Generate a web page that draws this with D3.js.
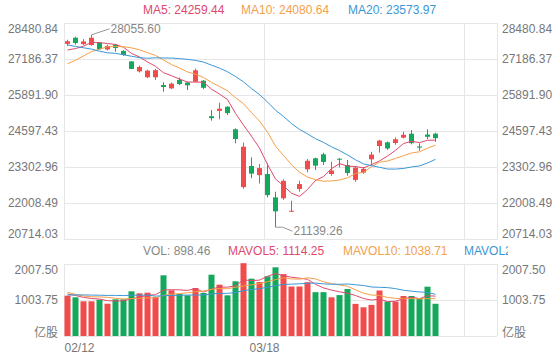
<!DOCTYPE html>
<html><head><meta charset="utf-8">
<script src="https://cdn.jsdelivr.net/npm/d3@7"></script>
<style>
body{margin:0;background:#fff}
svg{display:block}
text{font-family:"Liberation Sans",Arial,"Noto Sans CJK SC",sans-serif;font-size:12px}
</style>
</head><body>
<svg id="c" width="560" height="360"></svg>
<script>
// ---------- data ----------
const dates = ["02/12","02/13","02/14","02/17","02/18","02/19","02/20","02/21","02/24","02/25","02/26","02/27","02/28",
  "03/02","03/03","03/04","03/05","03/06","03/09","03/10","03/11","03/12","03/13","03/16","03/17","03/18","03/19","03/20",
  "03/23","03/24","03/25","03/26","03/27","03/30","03/31","04/01","04/02","04/03","04/06","04/07","04/08","04/09",
  "04/14","04/15","04/16","04/17","04/20"];
const opens  = [27730,27950,27720,27690,27770,27530,27700,27480,27100,26740,26530,26529,26250,26132,26432,26340,26371,26407,
  25130,25320,25470,24660,22580,23340,23010,23050,22210,22177,21720,22512,23220,23616,23760,23051,23600,23375,22840,23100,
  23580,24058,24191,24166,24357,24500,24040,24470,24500];
const closes = [27824,27760,27816,27950,27540,27656,27580,27330,26830,26900,26770,26785,26180,26300,26285,26240,26780,26150,
  25060,25400,25240,24310,24033,23064,23264,22292,21709,22805,21730,22690,23527,23352,23484,23175,23580,23086,23280,23236,
  23749,24253,23970,24300,24460,24160,24000,24390,24340];
const highs  = [27880,27990,27900,28055.60,27790,27700,27730,27500,27110,26950,26800,26830,26350,26340,26520,26370,26840,26430,
  25350,25615,25490,24694,24180,23650,23410,23436,22415,22860,22091,22810,23590,23640,23817,23494,23620,23555,23340,23300,
  23850,24280,24220,24370,24570,24630,24155,24660,24536];
const lows   = [27650,27700,27690,27660,27520,27490,27450,27300,26820,26700,26500,26430,26010,26100,26250,26070,26360,26100,
  24970,25020,25170,24155,22520,22900,22710,22210,21139.26,22120,21700,22415,23112,23195,23375,22990,23290,22990,22770,23060,
  23375,23820,23914,24100,24330,24118,23890,24300,24210];
const volumes = [1124,1078,967,967,1012,901,1023,1023,1246,1190,1208,1087,1692,1274,1171,1134,1338,1199,1709,1431,1134,1525,
  2030,1598,1506,1664,1915,1725,1380,1380,1500,1222,1222,1078,1140,1310,896,800,868,1268,960,960,1115,1115,1051,1375,898.46];
// estimated values of the 19 sessions before the visible window (used only to start the moving averages)
const priorCloses = [28885,28774,28883,29056,28796,27985,28341,27909,27950,27161,26449,26313,26357,26676,26787,27494,27404,27241,27584];
const priorVolumes = [1020,980,1050,1100,1010,990,1120,1080,1150,1180,1650,1420,1180,1060,1020,1280,1230,1120,1096];
const priceTicks = [20714.03,22008.49,23302.96,24597.43,25891.90,27186.37,28480.84];
const volTicks = [0,1003.75,2007.50];
const maPeriods = [5,10,20];
const maLegend = ["MA5: 24259.44","MA10: 24080.64","MA20: 23573.97"];
const volLegend = ["VOL: 898.46","MAVOL5: 1114.25","MAVOL10: 1038.71","MAVOL20: 1163.15"];
const xLabelIdx = [0,25];
const highLabel = "28055.60", lowLabel = "21139.26";
const slots = 54;

// ---------- layout ----------
const L = 64, R = 496, pTop = 23, pBot = 239, vTop = 264, vBot = 336;
const UP = "#f24b4b", DOWN = "#13a85b";
const maColors = ["#de4a6c","#f5a04a","#3a97d6"];
const gridC = "#e6e6e6", txtC = "#777";

const svg = d3.select("#c");
const x = d3.scaleBand().domain(d3.range(slots)).range([L, R]).padding(0);
const xs = d3.scaleLinear().domain([0, slots]).range([L, R]);
const y = d3.scaleLinear().domain([priceTicks[0], priceTicks[priceTicks.length-1]]).range([pBot, pTop]);
const yv = d3.scaleLinear().domain([0, volTicks[volTicks.length-1]]).range([vBot, vTop]);

// grid lines (horizontal)
svg.append("g").attr("transform",`translate(${L},0)`)
  .call(d3.axisLeft(y).tickValues(priceTicks).tickSize(-(R-L+1)).tickFormat(""))
  .call(g=>{g.select(".domain").remove(); g.selectAll("line").attr("stroke",gridC);});
svg.append("g").attr("transform",`translate(${L},0)`)
  .call(d3.axisLeft(yv).tickValues(volTicks).tickSize(-(R-L+1)).tickFormat(""))
  .call(g=>{g.select(".domain").remove(); g.selectAll("line").attr("stroke",gridC);});
// vertical split lines
const vlines = [0,25,50].map(i=>xs(i)).concat([R+1]);
[[pTop,pBot+1],[vTop,vBot]].forEach(([a,b])=>{
  svg.append("g").selectAll("line").data(vlines).join("line")
    .attr("x1",d=>Math.round(d)+0.5).attr("x2",d=>Math.round(d)+0.5).attr("y1",a).attr("y2",b)
    .attr("stroke",gridC);
});

// axis labels
function styleAxis(g){g.select(".domain").remove(); g.selectAll("line").remove(); g.selectAll("text").attr("fill",txtC).style("font-size","12px").style("font-family",null);}
const pFmt = d=>d.toFixed(2);
[[L, d3.axisLeft, 6],[R+1, d3.axisRight, 5]].forEach(([tx, ax, pad])=>{
  svg.append("g").attr("transform",`translate(${tx},0)`)
    .call(ax(y).tickValues(priceTicks).tickSize(0).tickPadding(pad).tickFormat(pFmt))
    .call(styleAxis)
    .call(g=>g.selectAll(".tick text").attr("dy",(d,i)=> i===priceTicks.length-1 ? "0.82em" : (i===0 ? "-0.1em" : "0.32em")));
  svg.append("g").attr("transform",`translate(${tx},0)`)
    .call(ax(yv).tickValues(volTicks).tickSize(0).tickPadding(pad).tickFormat(d=> d===0 ? "亿股" : pFmt(d)))
    .call(styleAxis)
    .call(g=>g.selectAll(".tick text").attr("dy",(d,i)=> i===volTicks.length-1 ? "0.78em" : (i===0 ? "0em" : "0.32em")));
});
svg.append("g").attr("transform",`translate(0,${vBot})`)
  .call(d3.axisBottom(xs).tickValues(xLabelIdx).tickSize(0).tickPadding(7).tickFormat(i=>dates[i]))
  .call(styleAxis)
  .call(g=>g.selectAll(".tick text").attr("text-anchor",(d,i)=> i===0 ? "start" : "middle"));

// candles
const idx = d3.range(dates.length);
const isUp = i => closes[i] >= opens[i];
const cg = svg.append("g");
cg.selectAll("line").data(idx).join("line")
  .attr("x1",i=>x(i)+3.5).attr("x2",i=>x(i)+3.5)
  .attr("y1",i=>y(highs[i])).attr("y2",i=>y(lows[i]))
  .attr("stroke",i=>isUp(i)?UP:DOWN);
cg.selectAll("rect").data(idx).join("rect")
  .attr("x",i=>x(i)+1).attr("width",5)
  .attr("y",i=>y(Math.max(opens[i],closes[i])))
  .attr("height",i=>Math.max(1, Math.abs(y(opens[i])-y(closes[i]))))
  .attr("fill",i=>isUp(i)?UP:DOWN);

// moving averages
function movAvg(prior, vals, n){
  const all = prior.concat(vals), off = prior.length;
  return vals.map((v,i)=> d3.mean(all.slice(off+i-n+1, off+i+1)));
}
maPeriods.forEach((n,k)=>{
  const m = movAvg(priorCloses, closes, n);
  svg.append("path").datum(m)
    .attr("d", d3.line().x((d,i)=>x(i)+3.5).y(d=>y(d)))
    .attr("fill","none").attr("stroke",maColors[k]).attr("stroke-width",1);
});

// volume bars
svg.append("g").selectAll("rect").data(idx).join("rect")
  .attr("x",i=>x(i)+0.5).attr("width",6)
  .attr("y",i=>yv(volumes[i])).attr("height",i=>vBot-yv(volumes[i]))
  .attr("fill",i=>isUp(i)?UP:DOWN);
maPeriods.forEach((n,k)=>{
  const m = movAvg(priorVolumes, volumes, n);
  svg.append("path").datum(m)
    .attr("d", d3.line().x((d,i)=>x(i)+3.5).y(d=>yv(d)))
    .attr("fill","none").attr("stroke",maColors[k]).attr("stroke-width",1);
});

// high / low markers
const hi = d3.maxIndex(highs), lo = d3.minIndex(lows);
const hx = x(hi)+3.5, hy = y(highs[hi]);
svg.append("path").attr("d",`M${hx},${hy}L${hx+18},${hy-6}`).attr("stroke","#999").attr("fill","none");
svg.append("text").attr("x",hx+19).attr("y",hy-6).attr("dy","0.35em").attr("fill","#888").text(highLabel);
const lx = x(lo)+3.5, ly = y(lows[lo]);
svg.append("path").attr("d",`M${lx},${ly}L${lx+7},${ly}L${lx+17},${ly+4}`).attr("stroke","#999").attr("fill","none");
svg.append("text").attr("x",lx+18).attr("y",ly+4).attr("dy","0.35em").attr("fill","#888").text(lowLabel);

// legends
const lgX1 = [143,241,348];
svg.append("g").selectAll("text").data(maLegend).join("text")
  .attr("x",(d,i)=>lgX1[i]).attr("y",14).attr("fill",(d,i)=>maColors[i]).text(d=>d);
svg.append("clipPath").attr("id","vclip").append("rect").attr("x",0).attr("y",240).attr("width",508).attr("height",24);
const lgX2 = [143,228,343,464];
svg.append("g").attr("clip-path","url(#vclip)").selectAll("text").data(volLegend).join("text")
  .attr("x",(d,i)=>lgX2[i]).attr("y",254.5).attr("fill",(d,i)=> i===0 ? "#888" : maColors[i-1]).text(d=>d);
</script>
</body></html>
